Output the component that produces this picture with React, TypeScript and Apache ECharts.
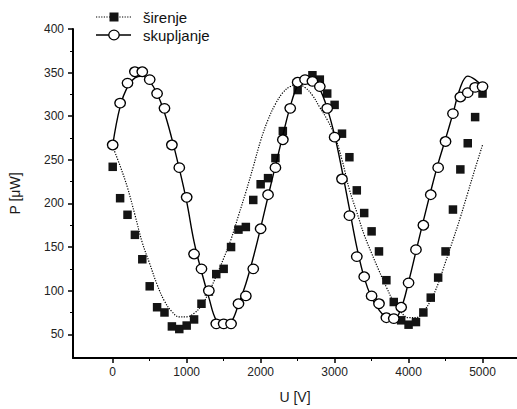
import React, { useEffect, useRef } from "react";
import * as echarts from "echarts";

// širenje (expansion): measured points (filled squares)
const sirenjeU = [0, 100, 200, 300, 400, 500, 600, 700, 800, 900, 1000, 1100, 1200, 1300, 1400, 1500, 1600, 1700, 1800, 1900, 2000, 2100, 2200, 2300, 2500, 2700, 2800, 2900, 3000, 3100, 3200, 3300, 3400, 3500, 3600, 3700, 3800, 3900, 4000, 4100, 4200, 4300, 4400, 4500, 4600, 4700, 4800, 4900, 5000];
const sirenjeP = [242, 206, 187, 164, 136, 105, 81, 75, 59, 56, 60, 67, 85, 99, 119, 125, 150, 170, 173, 204, 222, 229, 252, 283, 330, 347, 342, 326, 313, 280, 253, 215, 189, 168, 145, 112, 87, 66, 61, 64, 75, 92, 115, 145, 193, 239, 269, 299, 326];

// širenje fit curve (dotted)
const sirenjeFitU = [0, 100, 200, 300, 400, 500, 600, 700, 800, 900, 1000, 1100, 1200, 1300, 1400, 1500, 1600, 1700, 1800, 1900, 2000, 2100, 2200, 2300, 2400, 2500, 2600, 2700, 2800, 2900, 3000, 3100, 3200, 3300, 3400, 3500, 3600, 3700, 3800, 3900, 4000, 4100, 4200, 4300, 4400, 4500, 4600, 4700, 4800, 4900, 5000];
const sirenjeFitP = [265, 243, 218, 187, 155, 131, 107, 88, 76, 70, 70, 74, 83, 98, 117, 137, 159, 186, 213, 242, 272, 296, 314, 327, 334, 336, 333, 324, 310, 296, 278, 250, 216, 190, 164, 143, 123, 104, 87, 75, 69, 69, 76, 89, 108, 133, 158, 184, 212, 240, 267];

// skupljanje (contraction): measured points (open circles)
const skupljanjeU = [0, 100, 200, 300, 400, 500, 600, 700, 800, 900, 1000, 1100, 1200, 1300, 1400, 1500, 1600, 1700, 1800, 1900, 2000, 2100, 2200, 2300, 2400, 2500, 2600, 2700, 2800, 2900, 3000, 3100, 3200, 3300, 3400, 3500, 3600, 3700, 3800, 3900, 4000, 4100, 4200, 4300, 4400, 4500, 4600, 4700, 4800, 4900, 5000];
const skupljanjeP = [267, 315, 338, 351, 351, 342, 326, 309, 267, 241, 207, 142, 125, 100, 62, 62, 62, 85, 94, 125, 171, 210, 241, 273, 309, 339, 342, 340, 334, 309, 276, 228, 186, 139, 116, 94, 85, 69, 68, 81, 109, 147, 175, 210, 241, 271, 303, 322, 327, 333, 334];

// skupljanje fit curve (solid)
const skupljanjeFitU = [0, 100, 200, 300, 400, 500, 600, 700, 800, 900, 1000, 1100, 1200, 1300, 1400, 1500, 1600, 1700, 1800, 1900, 2000, 2100, 2200, 2300, 2400, 2500, 2600, 2700, 2800, 2900, 3000, 3100, 3200, 3300, 3400, 3500, 3600, 3700, 3800, 3900, 4000, 4100, 4200, 4300, 4400, 4500, 4600, 4700, 4800, 4900, 5000];
const skupljanjeFitP = [267, 311, 334, 344, 346, 340, 326, 304, 274, 240, 202, 156, 122, 92, 66, 61, 64, 84, 108, 138, 172, 208, 243, 278, 311, 335, 344, 342, 331, 309, 278, 238, 194, 150, 115, 92, 78, 69, 67, 80, 110, 145, 180, 214, 246, 274, 303, 333, 346, 342, 334];

// axis ticks
const xMajorTicks = [0, 1000, 2000, 3000, 4000, 5000];
const xMinorTicks = [500, 1500, 2500, 3500, 4500];
const yMajorTicks = [50, 100, 150, 200, 250, 300, 350, 400];
const yMinorTicks = [75, 125, 175, 225, 275, 325, 375];

const FONT = "'Liberation Sans', Arial, Helvetica, sans-serif";

const zip = (xs: number[], ys: number[]) => xs.map((x, i) => [x, ys[i]]);

export default function App() {
  const ref = useRef<HTMLDivElement>(null);

  useEffect(() => {
    const chart = echarts.init(ref.current!, null, { renderer: "svg" });
    const xMin = -537;
    const xMax = 5466;
    const yMin = 22.8;
    const yMax = 400;
    const plain = (v: number) => String(v);
    chart.setOption({
      animation: false,
      backgroundColor: "#fff",
      textStyle: { fontFamily: FONT },
      grid: { left: 70, right: 0, top: 29, bottom: 47, containLabel: false },
      xAxis: [
        {
          type: "value",
          min: xMin,
          max: xMax,
          position: "bottom",
          name: "U [V]",
          nameLocation: "middle",
          nameGap: 32,
          nameTextStyle: { fontSize: 14, color: "#1a1a1a", fontFamily: FONT },
          axisLine: { show: true, onZero: false, lineStyle: { color: "#000", width: 2 } },
          axisTick: { show: true, length: 5, lineStyle: { color: "#000", width: 1.5 }, customValues: xMajorTicks },
          axisLabel: { customValues: xMajorTicks, formatter: plain, fontSize: 12, color: "#222", margin: 8, fontFamily: FONT },
          splitLine: { show: false },
        },
        {
          type: "value",
          min: xMin,
          max: xMax,
          position: "bottom",
          axisLine: { show: false, onZero: false },
          axisTick: { show: true, length: 3, lineStyle: { color: "#000", width: 1 }, customValues: xMinorTicks },
          axisLabel: { show: false },
          splitLine: { show: false },
        },
      ],
      yAxis: [
        {
          type: "value",
          min: yMin,
          max: yMax,
          position: "left",
          name: "P [\u03bcW]",
          nameLocation: "middle",
          nameGap: 51,
          nameTextStyle: { fontSize: 14, color: "#1a1a1a", fontFamily: FONT },
          axisLine: { show: true, onZero: false, lineStyle: { color: "#000", width: 2 } },
          axisTick: { show: true, length: 5, lineStyle: { color: "#000", width: 1.5 }, customValues: yMajorTicks },
          axisLabel: { customValues: yMajorTicks, formatter: plain, fontSize: 12, color: "#222", margin: 9, fontFamily: FONT },
          splitLine: { show: false },
        },
        {
          type: "value",
          min: yMin,
          max: yMax,
          position: "left",
          axisLine: { show: false, onZero: false },
          axisTick: { show: true, length: 3, lineStyle: { color: "#000", width: 1 }, customValues: yMinorTicks },
          axisLabel: { show: false },
          splitLine: { show: false },
        },
      ],
      series: [
        {
          name: "širenje fit",
          type: "line",
          xAxisIndex: 0,
          yAxisIndex: 0,
          data: zip(sirenjeFitU, sirenjeFitP),
          smooth: 0.4,
          showSymbol: false,
          symbol: "none",
          lineStyle: { color: "#000", width: 1.2, type: [1.2, 1.4] },
          z: 2,
        },
        {
          name: "širenje",
          type: "scatter",
          xAxisIndex: 0,
          yAxisIndex: 0,
          data: zip(sirenjeU, sirenjeP),
          symbol: "rect",
          symbolSize: 8.5,
          itemStyle: { color: "#141414", opacity: 1 },
          z: 3,
        },
        {
          name: "skupljanje fit",
          type: "line",
          xAxisIndex: 0,
          yAxisIndex: 0,
          data: zip(skupljanjeFitU, skupljanjeFitP),
          smooth: 0.4,
          showSymbol: false,
          symbol: "none",
          lineStyle: { color: "#000", width: 1.4 },
          z: 4,
        },
        {
          name: "skupljanje",
          type: "scatter",
          xAxisIndex: 0,
          yAxisIndex: 0,
          data: zip(skupljanjeU, skupljanjeP),
          symbol: "circle",
          symbolSize: [10.5, 9.5],
          itemStyle: { color: "#fff", borderColor: "#000", borderWidth: 1.3, opacity: 1 },
          z: 5,
        },
      ],
      graphic: [
        { type: "line", shape: { x1: 96, y1: 17, x2: 131, y2: 17 }, style: { stroke: "#000", lineWidth: 1.2, lineDash: [1.2, 1.4] } },
        { type: "rect", shape: { x: 109.5, y: 12.5, width: 9, height: 9 }, style: { fill: "#141414" } },
        { type: "text", x: 143, y: 17, style: { text: "širenje", fontSize: 15, fontFamily: FONT, fill: "#111", verticalAlign: "middle", align: "left" } },
        { type: "line", shape: { x1: 96, y1: 35, x2: 131, y2: 35 }, style: { stroke: "#000", lineWidth: 1.4 } },
        { type: "ellipse", shape: { cx: 114, cy: 35, rx: 5.2, ry: 4.8 }, style: { fill: "#fff", stroke: "#000", lineWidth: 1.3 } },
        { type: "text", x: 143, y: 35, style: { text: "skupljanje", fontSize: 15, fontFamily: FONT, fill: "#111", verticalAlign: "middle", align: "left" } },
      ],
    });
    return () => chart.dispose();
  }, []);

  return <div ref={ref} style={{ position: "absolute", left: 0, top: 0, width: 517, height: 409 }} />;
}
